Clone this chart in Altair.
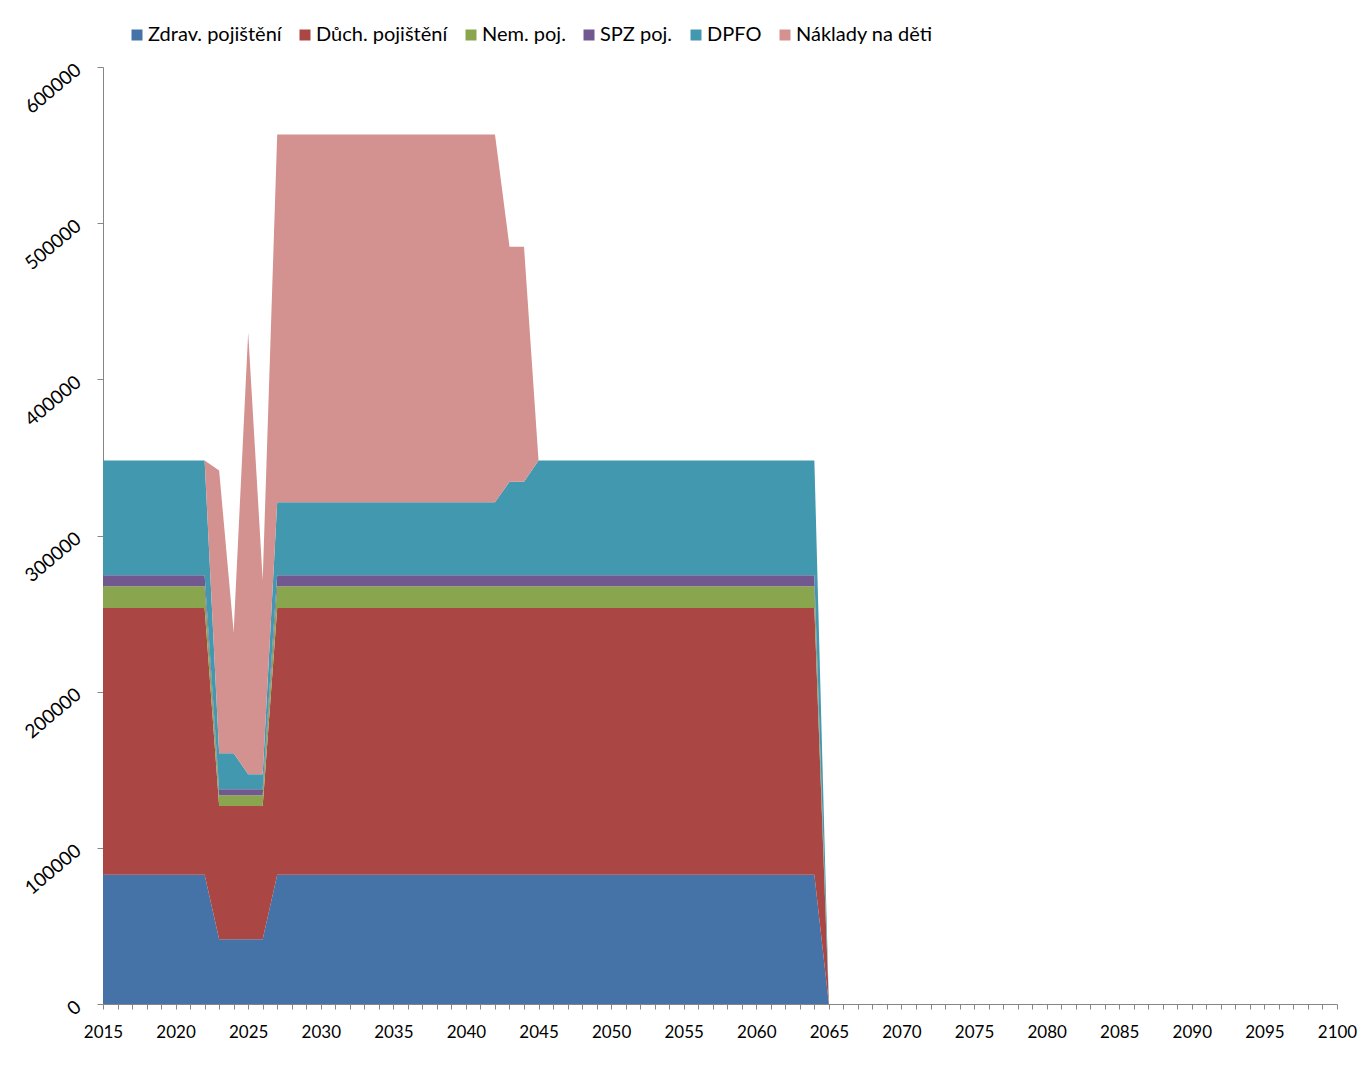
import altair as alt
import pandas as pd

years = list(range(2015, 2101))

series_names = ["Zdrav. pojištění", "Důch. pojištění", "Nem. poj.", "SPZ poj.", "DPFO", "Náklady na děti"]
colors = ["#4572A7", "#AA4643", "#89A54E", "#71588F", "#4198AF", "#D3918F"]

# 2015-2022 (8), 2023-2026 (4), 2027-2042 (16), 2043-2044 (2), 2045-2064 (20), 2065-2100 (36)
zdrav = [82800] * 8 + [41400] * 4 + [82800] * 16 + [82800] * 2 + [82800] * 20 + [0] * 36
duch = [170800] * 8 + [85400] * 4 + [170800] * 16 + [170800] * 2 + [170800] * 20 + [0] * 36
nem = [13900] * 8 + [6950] * 4 + [13900] * 16 + [13900] * 2 + [13900] * 20 + [0] * 36
spz = [7100] * 8 + [3800] * 4 + [7100] * 16 + [7100] * 2 + [7100] * 20 + [0] * 36
dpfo = [73400] * 8 + [23000, 23000, 9600, 9600] + [46700] * 16 + [59800] * 2 + [73400] * 20 + [0] * 36
naklady = [0] * 8 + [181000, 77700, 282600, 124400] + [235400] * 16 + [150500] * 2 + [0] * 20 + [0] * 36

all_series = [zdrav, duch, nem, spz, dpfo, naklady]

rows = []
for i, (name, vals) in enumerate(zip(series_names, all_series)):
    for y, v in zip(years, vals):
        rows.append({"year": y, "value": v, "series": name, "idx": i})
df = pd.DataFrame(rows)

FONT = "Lato"

chart = alt.Chart(df).mark_area(interpolate="linear").encode(
    x=alt.X("year:Q",
            scale=alt.Scale(domain=[2015, 2100], nice=False, zero=False),
            axis=alt.Axis(values=years, format="d",
                          labelExpr="datum.value % 5 == 0 ? '' + datum.value : ''",
                          labelOverlap=False, labelFlush=False,
                          tickSize=5, labelPadding=15, grid=False,
                          domainColor="#868686", tickColor="#868686",
                          labelFont=FONT, labelFontSize=17, labelColor="#000000",
                          title=None)),
    y=alt.Y("value:Q", stack="zero",
            scale=alt.Scale(domain=[0, 600000], nice=False),
            axis=alt.Axis(values=[0, 100000, 200000, 300000, 400000, 500000, 600000],
                          format="d", labelAngle=320, labelAlign="right",
                          labelBaseline="middle", labelPadding=19,
                          tickSize=6, grid=False,
                          domainColor="#868686", tickColor="#868686",
                          labelFont=FONT, labelFontSize=19, labelColor="#000000",
                          title=None)),
    color=alt.Color("series:N",
                    scale=alt.Scale(domain=series_names, range=colors),
                    legend=alt.Legend(orient="none", legendX=24, legendY=-42,
                                      direction="horizontal", columns=6,
                                      title=None, symbolType="square",
                                      symbolSize=121, symbolStrokeWidth=0,
                                      labelFont=FONT, labelFontSize=20,
                                      labelColor="#000000", labelOffset=1,
                                      columnPadding=13)),
    order=alt.Order("idx:Q"),
).properties(
    width=1234,
    height=937,
    background="#ffffff",
    autosize=alt.AutoSizeParams(type="none"),
    padding={"left": 95, "top": 59, "right": 21, "bottom": 60},
).configure_view(strokeWidth=0, stroke=None)

chart.save("out.html", embed_options={"renderer": "svg", "actions": False})
